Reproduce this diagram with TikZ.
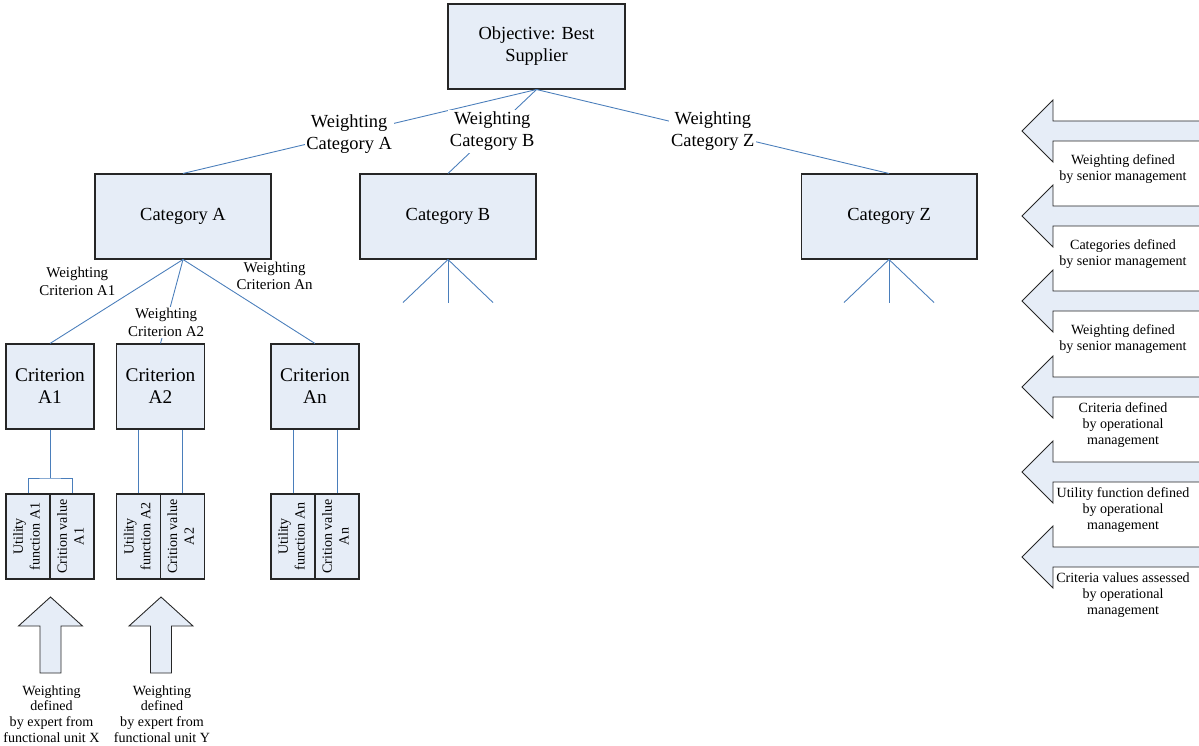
\documentclass[tikz,border=0pt]{standalone}
\usepackage{fontspec}
\setmainfont{Liberation Serif}
\usetikzlibrary{positioning}
\definecolor{boxfill}{RGB}{230,237,247}
\definecolor{linkblue}{RGB}{74,126,187}
\newcommand{\vtext}[1]{\rotatebox{90}{\begin{tabular}{@{}c@{}}#1\end{tabular}}}

\begin{document}
\begin{tikzpicture}[x=0.02cm, y=-0.02cm,
    box/.style={draw=black!85, fill=boxfill, line width=0.6pt, align=center, inner sep=1pt, font=\fontsize{10.5}{12.5}\selectfont},
    subbox/.style={draw=black!85, fill=boxfill, line width=0.6pt, minimum width=0.88cm, minimum height=1.7cm, inner sep=0pt, font=\fontsize{8}{9.5}\selectfont},
    link/.style={draw=linkblue, line width=0.5pt},
    wlabel/.style={fill=white, inner sep=1pt, align=center, font=\fontsize{10.5}{12.5}\selectfont},
    slabel/.style={fill=white, inner sep=1pt, align=center, font=\fontsize{8.5}{10.2}\selectfont},
    note/.style={align=center, font=\fontsize{8}{9}\selectfont},
    bigarrow/.style={draw=black!85, fill=boxfill, line width=0.5pt}]

    \useasboundingbox (0,0) rectangle (1199,746);

    \node[box, minimum width=3.54cm, minimum height=1.7cm] (obj) at (536.5,46.5) {Objective: Best\\Supplier};
    \node[box, minimum width=3.52cm, minimum height=1.7cm] (catA) at (183,216.5) {Category A};
    \node[box, minimum width=3.52cm, minimum height=1.7cm] (catB) at (448,216.5) {Category B};
    \node[box, minimum width=3.52cm, minimum height=1.7cm] (catZ) at (889,216.5) {Category Z};

    \node[box, minimum width=1.76cm, minimum height=1.7cm, font=\fontsize{11}{12.5}\selectfont] (critA1) at (50,386.5) {Criterion\\A1};
    \node[box, minimum width=1.76cm, minimum height=1.7cm, font=\fontsize{11}{12.5}\selectfont] (critA2) at (160.5,386.5) {Criterion\\A2};
    \node[box, minimum width=1.76cm, minimum height=1.7cm, font=\fontsize{11}{12.5}\selectfont] (critAn) at (315,386.5) {Criterion\\An};

    \node[subbox] (uA1) at (28,536.5) {\vtext{Utility\\function A1}};
    \node[subbox] (vA1) at (72,536.5) {\vtext{Crition value\\A1}};
    \node[subbox] (uA2) at (138.75,536.5) {\vtext{Utility\\function A2}};
    \node[subbox] (vA2) at (182.25,536.5) {\vtext{Crition value\\A2}};
    \node[subbox] (uAn) at (293,536.5) {\vtext{Utility\\function An}};
    \node[subbox] (vAn) at (337,536.5) {\vtext{Crition value\\An}};

    \draw[link] (obj.south) -- node[wlabel, pos=0.53] (wA) {Weighting\\Category A} (catA.north);
    \draw[link] (obj.south) -- node[wlabel, pos=0.5] (wB) {Weighting\\Category B} (catB.north);
    \draw[link] (obj.south) -- node[wlabel, pos=0.5] (wZ) {Weighting\\Category Z} (catZ.north);

    \draw[link] (catA.south) -- node[slabel, pos=0.26, left=0.62cm] (wA1) {Weighting\\Criterion A1} (critA1.north);
    \draw[link] (catA.south) -- node[slabel, pos=0.75] (wA2) {Weighting\\Criterion A2} (critA2.north);
    \draw[link] (catA.south) -- node[slabel, pos=0.39, anchor=south west] (wAn) {Weighting\\Criterion An} (critAn.north);

    \foreach \c in {catB,catZ}
        \foreach \dx in {-45,0,45}
            \draw[link] (\c.south) -- ++(\dx,43);

    \coordinate (jA1) at (50,478);
    \draw[link] (critA1.south) -- (jA1);
    \draw[link] (uA1.north) |- (jA1) -| (vA1.north);
    \foreach \s in {uA2,vA2}
        \draw[link] (\s.north) -- (\s.north |- critA2.south);
    \foreach \s in {uAn,vAn}
        \draw[link] (\s.north) -- (\s.north |- critAn.south);

    \foreach \x/\txt [count=\i] in {50.5/{Weighting\\defined\\by expert from\\functional unit X}, 161/{Weighting\\defined\\by expert from\\functional unit Y}}{
        \draw[bigarrow] (\x-10.5,673) -- (\x-10.5,626) -- (\x-32,626) -- (\x,597) -- (\x+32,626) -- (\x+10.5,626) -- (\x+10.5,673) -- cycle;
        \node[note] (exp\i) at (\x+1,714) {\txt};
    }

    \foreach \y/\txt [count=\i] in {131/{Weighting defined\\by senior management}, 216/{Categories defined\\by senior management}, 301/{Weighting defined\\by senior management}, 387/{Criteria defined\\by operational\\management}, 472/{Utility function defined\\by operational\\management}, 557/{Criteria values assessed\\by operational\\management}}{
        \draw[bigarrow] (1206,\y-10) -- (1053,\y-10) -- (1053,\y-31) -- (1022,\y) -- (1053,\y+31) -- (1053,\y+10) -- (1206,\y+10);
        \node[note] (def\i) at (1123,\y+38) {\txt};
    }
\end{tikzpicture}
\end{document}
